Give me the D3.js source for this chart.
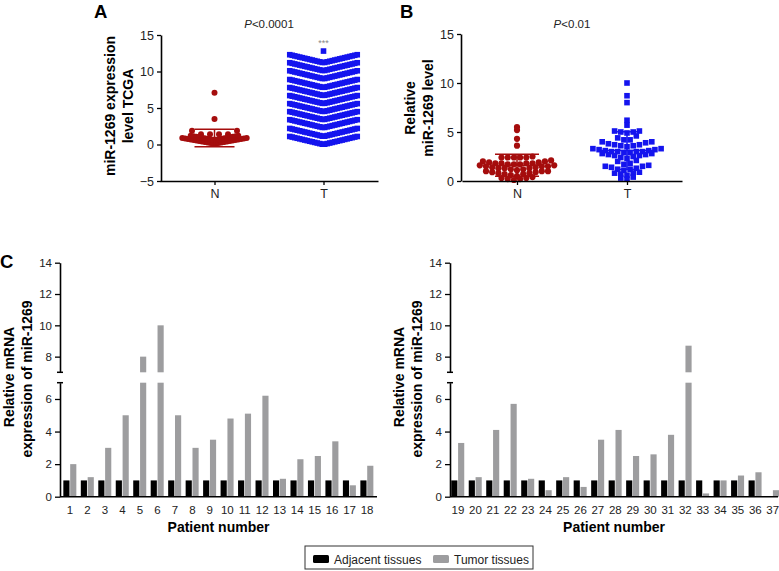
<!DOCTYPE html>
<html>
<head>
<meta charset="utf-8">
<script src="https://cdn.jsdelivr.net/npm/d3@7"></script>
<style>
body { margin: 0; background: #fff; }
svg { font-family: Arial, "Liberation Sans", sans-serif; }
.axis .domain { stroke: #000; stroke-width: 1.6; }
.axis .tick line { stroke: #000; stroke-width: 1.3; }
.axis .tick text { fill: #222; }
</style>
</head>
<body>
<svg id="chart" width="779" height="571"></svg>
<script>
// ---------- data ----------
const groups = ['N', 'T'];

const tcgaNormalPoints = [7.1, 3.5, 1.9, 1.9, 1.4, 1.4, 1.4, 1.4];
const tcgaNormalRowLow = [0.1, 0.6];
const tcgaNormalRowHigh = [0.9, 1.2];
const tcgaNormalRowCount = [24, 18];
const tcgaTumorRowLow = [0.0, 1.1, 2.3, 3.4, 4.5, 5.6, 6.7, 7.8, 9.0, 10.1, 11.2];
const tcgaTumorRowHigh = [1.1, 2.2, 3.4, 4.5, 5.6, 6.7, 7.8, 8.9, 10.1, 11.2, 12.3];
const tcgaTumorRowCount = [28, 28, 28, 28, 28, 28, 28, 28, 28, 28, 28];
const tcgaTumorTop = 12.8;
const tcgaMean = [0.9, 6.2];
const tcgaSd = [1.2, 3.6];

// B: relative level
const relNormal = [5.5, 5.2, 4.3, 3.6,
  2.4, 2.4, 2.4, 2.4, 2.4, 2.5,
  1.7, 1.7, 1.7, 1.8, 1.8, 1.8, 1.8, 1.9, 1.9, 2.0, 2.0, 2.1,
  1.1, 1.2, 1.2, 1.3, 1.3, 1.3, 1.4, 1.4, 1.5, 1.5, 1.5, 1.6, 1.6,
  0.5, 0.6, 0.7, 0.7, 0.8, 0.8, 0.9, 0.9, 1.0, 1.0, 1.0,
  0.1, 0.2, 0.2, 0.3, 0.3, 0.4];
const relTumor = [10.0, 8.7, 8.0, 6.2, 5.7,
  4.9, 5.0, 5.0, 5.1, 5.1,
  4.2, 4.2, 4.4, 4.6,
  3.5, 3.6, 3.6, 3.7, 3.7, 3.8, 3.9, 4.0, 4.0,
  2.9, 2.9, 3.0, 3.0, 3.0, 3.0, 3.1, 3.1, 3.2, 3.2, 3.3, 3.3,
  2.3, 2.4, 2.5, 2.6, 2.6, 2.7, 2.7, 2.8, 2.8,
  1.7, 1.8, 2.0, 2.1,
  1.1, 1.2, 1.2, 1.3, 1.4, 1.5, 1.5, 1.6,
  0.6, 0.7, 0.8, 0.8, 0.9,
  0.2, 0.3, 0.4];

// C: per patient
const patientsLeft = ['1','2','3','4','5','6','7','8','9','10','11','12','13','14','15','16','17','18'];
const adjacentLeft = [1,1,1,1,1,1,1,1,1,1,1,1,1,1,1,1,1,1];
const tumorLeft = [2.0, 1.2, 3.0, 5.0, 8.0, 10.0, 5.0, 3.0, 3.5, 4.8, 5.1, 6.2, 1.1, 2.3, 2.5, 3.4, 0.7, 1.9];
const patientsRight = ['19','20','21','22','23','24','25','26','27','28','29','30','31','32','33','34','35','36','37'];
const adjacentRight = [1,1,1,1,1,1,1,1,1,1,1,1,1,1,1,1,1,1,null];
const tumorRight = [3.3, 1.2, 4.1, 5.7, 1.1, 0.4, 1.2, 0.6, 3.5, 4.1, 2.5, 2.6, 3.8, 8.7, 0.2, 1.0, 1.3, 1.5, 0.4];
const seriesNames = ['Adjacent tissues', 'Tumor tissues'];

// ---------- styles ----------
const red = '#a50d0d';
const blue = '#1414ee';
const black = '#000';
const grey = '#9d9d9f';

const svg = d3.select('#chart');

function styleAxis(g, size) {
  g.attr('class', 'axis').selectAll('.tick text').style('font-size', size + 'px');
}

// GraphPad-like rows: values binned by pixel row, lowest in the middle
function swarm(values, y, cx, binPx, step) {
  const pts = [];
  d3.groups(values, v => Math.round(y(v) / binPx)).forEach(([, vals]) => {
    vals.sort((a, b) => a - b);
    const n = vals.length;
    const slots = d3.range(n).map(i => (i - (n - 1) / 2) * step)
      .sort((a, b) => Math.abs(a) - Math.abs(b));
    vals.forEach((v, i) => pts.push({ x: cx + slots[i], v: v }));
  });
  return pts;
}

// dense chevron row: low value in the middle, high value at the edges
function chevron(low, high, count, cx, step) {
  const half = (count - 1) / 2 * step;
  return d3.range(count).map(i => {
    const dx = (i - (count - 1) / 2) * step;
    return { x: cx + dx, v: low + (high - low) * Math.abs(dx) / half };
  });
}

function errorBar(g, cx, y, mean, sd, meanHalf, capHalf, color) {
  const e = g.append('g').attr('stroke', color).attr('stroke-width', 1.5);
  e.append('line').attr('x1', cx).attr('x2', cx).attr('y1', y(mean - sd)).attr('y2', y(mean + sd));
  e.append('line').attr('x1', cx - meanHalf).attr('x2', cx + meanHalf).attr('y1', y(mean)).attr('y2', y(mean));
  [mean - sd, mean + sd].forEach(v => {
    e.append('line').attr('x1', cx - capHalf).attr('x2', cx + capHalf).attr('y1', y(v)).attr('y2', y(v));
  });
}

function rotatedLabel(x, y, text, size) {
  svg.append('text')
    .attr('transform', 'translate(' + x + ',' + y + ') rotate(-90)')
    .attr('text-anchor', 'middle')
    .attr('dy', '0.35em')
    .style('font-size', size + 'px')
    .style('font-weight', 'bold')
    .text(text);
}

function panelLetter(x, y, t, size) {
  svg.append('text').attr('x', x).attr('y', y)
    .style('font-size', size + 'px').style('font-weight', 'bold').text(t);
}

function pLabel(cx, y, rest) {
  const t = svg.append('text').attr('x', cx).attr('y', y)
    .attr('text-anchor', 'middle').style('font-size', '11.5px').attr('fill', '#222');
  t.append('tspan').style('font-style', 'italic').text('P');
  t.append('tspan').text(rest);
}

// ---------- panel A ----------
const yA = d3.scaleLinear().domain([-5, 15]).range([181, 35]);
const xA = d3.scalePoint().domain(groups).range([160, 378]).padding(0.5);

const gA = svg.append('g');
// tumour rows (drawn as squares)
const tumorPts = [];
tcgaTumorRowLow.forEach((lo, i) => {
  tumorPts.push(...chevron(lo, tcgaTumorRowHigh[i], tcgaTumorRowCount[i], xA('T'), 2.5));
});
tumorPts.push({ x: xA('T'), v: tcgaTumorTop });
gA.append('g').selectAll('rect').data(tumorPts).join('rect')
  .attr('x', d => d.x - 2.8).attr('y', d => yA(d.v) - 2.8)
  .attr('width', 5.6).attr('height', 5.6).attr('fill', blue);
gA.append('text').attr('x', xA('T')).attr('y', yA(tcgaTumorTop) - 5)
  .attr('text-anchor', 'middle').style('font-size', '9px').attr('fill', '#888').text('***');

const normalPts = swarm(tcgaNormalPoints, yA, xA('N'), 7, 9);
tcgaNormalRowLow.forEach((lo, i) => {
  normalPts.push(...chevron(lo, tcgaNormalRowHigh[i], tcgaNormalRowCount[i], xA('N'), 2.8));
});
gA.append('g').selectAll('circle').data(normalPts).join('circle')
  .attr('cx', d => d.x).attr('cy', d => yA(d.v)).attr('r', 3).attr('fill', red);
errorBar(gA, xA('N'), yA, tcgaMean[0], tcgaSd[0], 24, 20, red);

svg.append('g').attr('transform', 'translate(161,0)')
  .call(d3.axisLeft(yA).tickValues([-5, 0, 5, 10, 15]).tickSize(4).tickSizeOuter(0).tickPadding(3))
  .call(g => styleAxis(g, 12.5));
svg.append('g').attr('transform', 'translate(0,181)')
  .call(d3.axisBottom(xA).tickSize(4).tickSizeOuter(0).tickPadding(4))
  .call(g => styleAxis(g, 12.5));

rotatedLabel(110, 106, 'miR-1269 expression', 14);
rotatedLabel(128, 106, 'level TCGA', 14);
panelLetter(94, 17.5, 'A', 18.5);
pLabel(269, 28, '<0.0001');

// ---------- panel B ----------
const yB = d3.scaleLinear().domain([0, 15]).range([181, 34]);
const xB = d3.scalePoint().domain(groups).range([462, 682]).padding(0.5);

const gB = svg.append('g');
gB.append('g').selectAll('circle').data(swarm(relNormal, yB, xB('N'), 6, 6.2)).join('circle')
  .attr('cx', d => d.x).attr('cy', d => yB(d.v)).attr('r', 3.1).attr('fill', red);
errorBar(gB, xB('N'), yB, d3.mean(relNormal), d3.deviation(relNormal), 26, 22, red);

gB.append('g').selectAll('rect').data(swarm(relTumor, yB, xB('T'), 6, 6.2)).join('rect')
  .attr('x', d => d.x - 2.8).attr('y', d => yB(d.v) - 2.8)
  .attr('width', 5.6).attr('height', 5.6).attr('fill', blue);
errorBar(gB, xB('T'), yB, d3.mean(relTumor), d3.deviation(relTumor), 30, 12, blue);

svg.append('g').attr('transform', 'translate(461,0)')
  .call(d3.axisLeft(yB).tickValues([0, 5, 10, 15]).tickSize(4).tickSizeOuter(0).tickPadding(3))
  .call(g => styleAxis(g, 12.5));
svg.append('g').attr('transform', 'translate(0,181)')
  .call(d3.axisBottom(xB).tickSize(4).tickSizeOuter(0).tickPadding(4))
  .call(g => styleAxis(g, 12.5));

rotatedLabel(410, 108, 'Relative', 14);
rotatedLabel(428, 108, 'miR-1269 level', 14);
panelLetter(400, 17.5, 'B', 18.5);
pLabel(572, 28, '<0.01');

// ---------- panel C ----------
const cBreak = 7;
const yLow = d3.scaleLinear().domain([0, cBreak]).range([496.7, 382.7]);
const yHigh = d3.scaleLinear().domain([cBreak, 14]).range([372.3, 262.7]);
const xPair = d3.scaleBand().domain(['adj', 'tum']).range([-6.7, 6.3]).paddingInner(0.1);

function barChart(axisX, range, axisEnd, patients, adjacent, tumor) {
  const x = d3.scaleBand().domain(patients).range(range);
  const g = svg.append('g');
  const rows = [];
  patients.forEach((p, i) => {
    if (adjacent[i] != null) rows.push({ p: p, s: 'adj', v: adjacent[i] });
    if (tumor[i] != null) rows.push({ p: p, s: 'tum', v: tumor[i] });
  });
  const color = s => (s === 'adj' ? black : grey);
  const bx = d => x(d.p) + x.bandwidth() / 2 + xPair(d.s);
  g.selectAll('rect.low').data(rows).join('rect').attr('class', 'low')
    .attr('x', bx).attr('width', xPair.bandwidth())
    .attr('y', d => yLow(Math.min(d.v, cBreak)))
    .attr('height', d => yLow(0) - yLow(Math.min(d.v, cBreak)))
    .attr('fill', d => color(d.s));
  g.selectAll('rect.high').data(rows.filter(d => d.v > cBreak)).join('rect').attr('class', 'high')
    .attr('x', bx).attr('width', xPair.bandwidth())
    .attr('y', d => yHigh(d.v))
    .attr('height', d => yHigh(cBreak) - yHigh(d.v))
    .attr('fill', d => color(d.s));

  const fmt = d3.format('d');
  svg.append('g').attr('transform', 'translate(' + axisX + ',0)')
    .call(d3.axisLeft(yLow).tickValues([0, 2, 4, 6]).tickFormat(fmt).tickSize(5).tickSizeOuter(0).tickPadding(3))
    .call(g => styleAxis(g, 11.5));
  svg.append('g').attr('transform', 'translate(' + axisX + ',0)')
    .call(d3.axisLeft(yHigh).tickValues([8, 10, 12, 14]).tickFormat(fmt).tickSize(5).tickSizeOuter(0).tickPadding(3))
    .call(g => styleAxis(g, 11.5));
  [yLow(cBreak), yHigh(cBreak)].forEach(yy => {
    svg.append('line').attr('x1', axisX - 3).attr('x2', axisX + 3)
      .attr('y1', yy).attr('y2', yy).attr('stroke', '#000').attr('stroke-width', 1.5);
  });
  svg.append('g').attr('transform', 'translate(0,' + yLow(0) + ')')
    .call(d3.axisBottom(x).tickSize(0).tickSizeOuter(0).tickPadding(9))
    .call(g => styleAxis(g, 11.5))
    .call(g => g.select('.domain').attr('d', 'M' + axisX + ',0H' + axisEnd));

  svg.append('text').attr('x', (axisX + axisEnd) / 2).attr('y', 532)
    .attr('text-anchor', 'middle').style('font-size', '14px').style('font-weight', 'bold')
    .text('Patient number');
}

barChart(60, [61.3, 375.8], 377, patientsLeft, adjacentLeft, tumorLeft);
barChart(450, [449.2, 781.5], 778, patientsRight, adjacentRight, tumorRight);

rotatedLabel(9, 377, 'Relative mRNA', 14);
rotatedLabel(27, 379, 'expression of miR-1269', 14);
rotatedLabel(399, 377, 'Relative mRNA', 14);
rotatedLabel(417, 379, 'expression of miR-1269', 14);
panelLetter(0, 268, 'C', 18.5);

// ---------- legend ----------
const legend = svg.append('g').attr('transform', 'translate(305,546)');
legend.append('rect').attr('width', 228).attr('height', 23)
  .attr('fill', '#fff').attr('stroke', '#333').attr('stroke-width', 1);
const legendX = [8, 128];
seriesNames.forEach((name, i) => {
  legend.append('rect').attr('x', legendX[i]).attr('y', 9).attr('width', 16).attr('height', 8)
    .attr('rx', 1.5).attr('fill', i === 0 ? black : grey);
  legend.append('text').attr('x', legendX[i] + 21).attr('y', 17.5)
    .style('font-size', '12px').attr('fill', '#222').text(name);
});
</script>
</body>
</html>
